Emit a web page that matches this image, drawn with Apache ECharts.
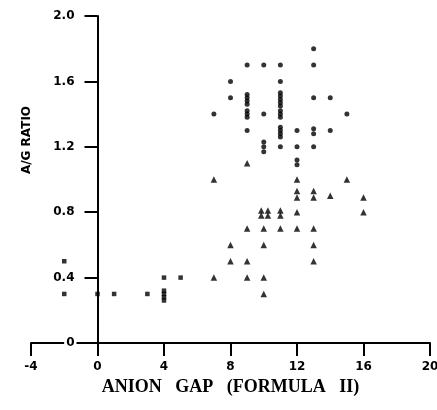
<!DOCTYPE html>
<html>
<head>
<meta charset="utf-8">
<script src="https://cdn.jsdelivr.net/npm/echarts@6/dist/echarts.min.js"></script>
<style>
  html, body { margin: 0; padding: 0; background: #fff; }
  #chart { width: 437px; height: 410px; }
</style>
</head>
<body>
<div id="chart"></div>
<script>
// x: anion gap, y: A/G ratio
const circlePoints = [
  [13, 1.8],
  [9, 1.7], [10, 1.7], [11, 1.7], [13, 1.7],
  [8, 1.6], [11, 1.6],
  [8, 1.5], [9, 1.52], [9, 1.5], [9, 1.48], [9, 1.46],
  [11, 1.53], [11, 1.51], [11, 1.49], [11, 1.47], [11, 1.45], [13, 1.5], [14, 1.5],
  [7, 1.4], [9, 1.42], [9, 1.4], [9, 1.38], [10, 1.4], [11, 1.42], [11, 1.4], [11, 1.38], [15, 1.4],
  [9, 1.3], [11, 1.32], [11, 1.3], [11, 1.28], [11, 1.26], [12, 1.3], [13, 1.31], [13, 1.28], [14, 1.3],
  [10, 1.23], [10, 1.2], [10, 1.17], [11, 1.2], [12, 1.2], [13, 1.2],
  [12, 1.12], [12, 1.09]
]
const trianglePoints = [
  [9, 1.1], [7, 1.0], [12, 1.0], [15, 1.0],
  [12, 0.93], [12, 0.89], [13, 0.93], [13, 0.89], [14, 0.9], [16, 0.89],
  [9.85, 0.81], [10.25, 0.81], [9.85, 0.78], [10.25, 0.78], [11, 0.81], [11, 0.78], [12, 0.8], [16, 0.8],
  [9, 0.7], [10, 0.7], [11, 0.7], [12, 0.7], [13, 0.7],
  [8, 0.6], [10, 0.6], [13, 0.6],
  [8, 0.5], [9, 0.5], [13, 0.5],
  [7, 0.4], [9, 0.4], [10, 0.4],
  [10, 0.3]
]
const squarePoints = [
  [-2, 0.5], [-2, 0.3], [0, 0.3], [1, 0.3], [3, 0.3],
  [4, 0.4], [4, 0.32], [4, 0.3], [4, 0.28], [4, 0.26], [5, 0.4]
]
const xTicks = [-4, 0, 4, 8, 12, 16, 20]
const yTicks = [0, 0.4, 0.8, 1.2, 1.6, 2.0]

const ink = '#000'
const labelFont = { color: ink, fontFamily: 'DejaVu Sans', fontWeight: 'bold', fontSize: 12 }

// grid spans x -4..20; the y axis is shifted right so it sits on x = 0
const gridLeft = 31, gridRight = 7
const plotW = 437 - gridLeft - gridRight
const yAxisShift = plotW * (0 - xTicks[0]) / (xTicks[xTicks.length - 1] - xTicks[0])

const chart = echarts.init(document.getElementById('chart'))
chart.setOption({
  backgroundColor: '#fff',
  animation: false,
  grid: { left: gridLeft, right: gridRight, top: 16, bottom: 67, containLabel: false, outerBoundsMode: 'none' },
  xAxis: {
    type: 'value',
    min: xTicks[0], max: xTicks[xTicks.length - 1], interval: 4,
    name: 'ANION   GAP   (FORMULA   II)',
    nameLocation: 'middle', nameGap: 35,
    nameTextStyle: { color: ink, fontFamily: 'Liberation Serif', fontWeight: 'bold', fontSize: 18 },
    axisLine: { onZero: false, lineStyle: { color: ink, width: 2 } },
    axisTick: { length: 13, lineStyle: { color: ink, width: 2 } },
    axisLabel: { ...labelFont, margin: 18 },
    splitLine: { show: false }
  },
  yAxis: {
    type: 'value',
    min: yTicks[0], max: yTicks[yTicks.length - 1], interval: 0.4,
    offset: -yAxisShift,
    z: 5,
    axisLine: { onZero: false, lineStyle: { color: ink, width: 2 } },
    axisTick: { length: 13, lineStyle: { color: ink, width: 2 } },
    axisLabel: {
      ...labelFont, margin: 21,
      backgroundColor: '#fff', padding: [0, 2],
      formatter: v => (v === 0 ? '0' : v.toFixed(1))
    },
    splitLine: { show: false }
  },
  graphic: [{
    type: 'text', x: 27, y: 140, rotation: Math.PI / 2,
    style: { text: 'A/G RATIO', fill: ink, font: 'bold 12px "DejaVu Sans"', align: 'center', verticalAlign: 'middle' }
  }],
  series: [
    { type: 'scatter', data: circlePoints, symbol: 'circle', symbolSize: 5, itemStyle: { color: ink } },
    { type: 'scatter', data: trianglePoints, symbol: 'triangle', symbolSize: 6.5, itemStyle: { color: ink } },
    { type: 'scatter', data: squarePoints, symbol: 'rect', symbolSize: 4.5, itemStyle: { color: ink } }
  ]
})
</script>
</body>
</html>
